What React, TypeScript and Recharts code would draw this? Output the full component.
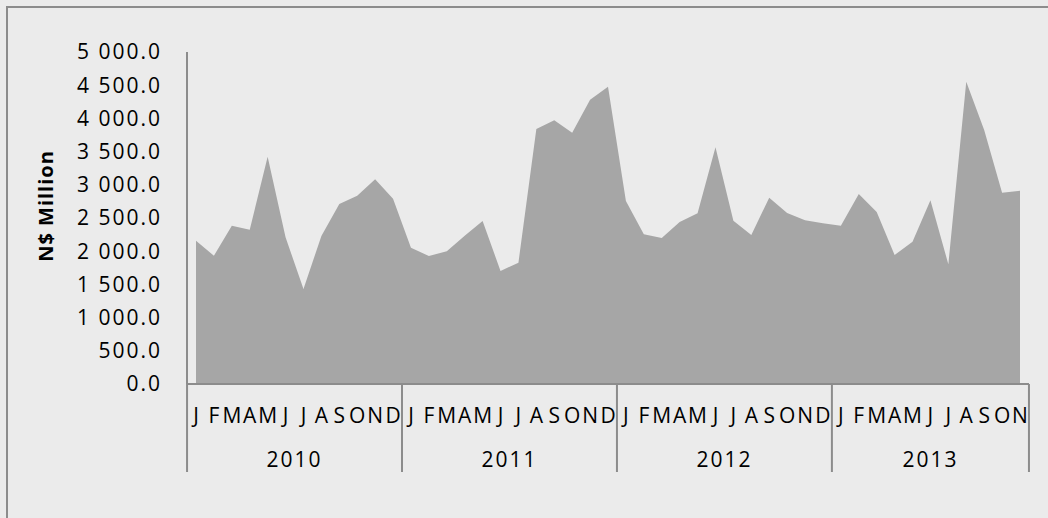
import React from 'react';
import { AreaChart, Area, XAxis, YAxis } from 'recharts';

const years = ['2010', '2011', '2012', '2013'];
const monthLetters = ['J', 'F', 'M', 'A', 'M', 'J', 'J', 'A', 'S', 'O', 'N', 'D'];
const values2010 = [2158, 1932, 2384, 2324, 3423, 2209, 1431, 2229, 2711, 2836, 3082, 2791];
const values2011 = [2053, 1928, 1998, 2234, 2455, 1702, 1827, 3840, 3971, 3785, 4282, 4478];
const values2012 = [2756, 2254, 2199, 2440, 2570, 3564, 2460, 2244, 2806, 2575, 2465, 2420];
const values2013 = [2384, 2861, 2590, 1943, 2143, 2766, 1803, 4553, 3825, 2881, 2911];
const yTicks = [0, 500, 1000, 1500, 2000, 2500, 3000, 3500, 4000, 4500, 5000];

const yearValues = [values2010, values2011, values2012, values2013];

type Row = { key: string; month: string; year: string; mi: number; count: number; value: number };
const data: Row[] = [];
years.forEach((yr, yi) => {
  const vals = yearValues[yi];
  vals.forEach((v, mi) => {
    data.push({ key: `${yr}-${mi}`, month: monthLetters[mi], year: yr, mi, count: vals.length, value: v });
  });
});
const byKey: Record<string, Row> = {};
data.forEach((d, i) => { byKey[d.key] = d; });

const W = 1048;
const H = 518;
const M_TOP = 52;
const M_RIGHT = 19;
const Y_W = 187;
const X_H = 134;
const PAD = 9;
const STEP = (W - M_RIGHT - Y_W - 2 * PAD) / (data.length - 1);
const FONT = "'Open Sans', sans-serif";
const AXIS_COLOR = '#8c8c8c';

const fmt = (v: number) => {
  const s = v.toFixed(1);
  const [int, dec] = s.split('.');
  return int.replace(/\B(?=(\d{3})+(?!\d))/g, ' ') + '.' + dec;
};

const XTick = (props: any) => {
  const { x, y, payload } = props;
  const d = byKey[payload.value];
  if (!d) return null;
  const isLast = d.key === data[data.length - 1].key;
  return (
    <g>
      <text x={x} y={y + 31} textAnchor="middle" dominantBaseline="central" fontFamily={FONT} fontSize={21} fill="#000">
        {d.month}
      </text>
      {d.mi === 0 && (
        <>
          <line x1={x - STEP / 2} y1={y} x2={x - STEP / 2} y2={y + 88} stroke={AXIS_COLOR} strokeWidth={2} />
          <text x={x + ((d.count - 1) / 2) * STEP} y={y + 75} textAnchor="middle" dominantBaseline="central" fontFamily={FONT} fontSize={21} letterSpacing={2} fill="#000">
            {d.year}
          </text>
        </>
      )}
      {isLast && <line x1={x + STEP / 2} y1={y} x2={x + STEP / 2} y2={y + 88} stroke={AXIS_COLOR} strokeWidth={2} />}
    </g>
  );
};

export default function App() {
  return (
    <div style={{ position: 'absolute', left: 0, top: 0, width: W, height: H, background: '#ebebeb', overflow: 'hidden' }}>
      <div style={{ position: 'absolute', left: 6, top: 6, width: 1100, height: 600, border: `2px solid ${AXIS_COLOR}` }} />
      <div style={{ position: 'absolute', left: 0, top: 0 }}>
        <AreaChart width={W} height={H} data={data} margin={{ top: M_TOP, right: M_RIGHT, bottom: 0, left: 0 }}>
          <XAxis
            dataKey="key"
            type="category"
            scale="point"
            padding={{ left: PAD, right: PAD }}
            height={X_H}
            interval={0}
            tickLine={false}
            tickSize={0}
            tickMargin={0}
            axisLine={{ stroke: AXIS_COLOR, strokeWidth: 2 }}
            tick={<XTick />}
          />
          <YAxis
            width={Y_W}
            domain={[0, 5000]}
            ticks={yTicks}
            interval={0}
            tickLine={false}
            tickSize={0}
            tickMargin={25}
            tickFormatter={fmt}
            axisLine={{ stroke: AXIS_COLOR, strokeWidth: 2 }}
            tick={{ fontFamily: FONT, fontSize: 21, fill: '#000', letterSpacing: 2 }}
            label={{
              content: () => (
                <text transform="translate(45,206) rotate(-90)" textAnchor="middle" dominantBaseline="central" fontFamily={FONT} fontWeight="bold" fontSize={20} letterSpacing={1} fill="#000">
                  N$ Million
                </text>
              ),
            }}
          />
          <Area type="linear" dataKey="value" fill="#a6a6a6" fillOpacity={1} stroke="none" isAnimationActive={false} />
        </AreaChart>
      </div>
    </div>
  );
}
